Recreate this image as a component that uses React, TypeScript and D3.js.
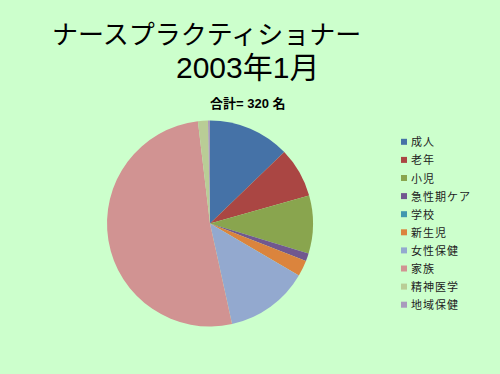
import React from "react";
import * as d3 from "d3";

const categories = ["成人", "老年", "小児", "急性期ケア", "学校", "新生児", "女性保健", "家族", "精神医学", "地域保健"];
const values = [41, 25, 29, 4, 0, 8, 42, 165, 5, 1];
const colors = ["#4572A7", "#AA4643", "#89A54E", "#71588F", "#4198AF", "#DB843D", "#93A9CF", "#D19392", "#B9CD96", "#A99BBD"];
const titleLine1 = "ナースプラクティショナー";
const titleLine2 = "2003年1月";
const subtitle = "合計= 320 名";

export default function App() {
  const W = 500, H = 374;
  const cx = 210, cy = 223.5, r = 103;
  const data = categories.map((c, i) => ({ c, v: values[i], color: colors[i] }));
  const pie = d3.pie<any>().value((d: any) => d.v).sort(null);
  const arc = d3.arc<any>().innerRadius(0).outerRadius(r);
  const arcs = pie(data);
  const font = "'Liberation Sans', 'Noto Sans CJK JP', sans-serif";
  return (
    <svg width={W} height={H} style={{ position: "absolute", left: 0, top: 0 }}>
      <rect x={0} y={0} width={W} height={H} fill="#CCFFCC" />
      <text x={52} y={44} fontSize={26} fontFamily={font} fill="#000">{titleLine1}</text>
      <text x={176} y={77.5} fontSize={30} fontFamily={font} fill="#000">{titleLine2}</text>
      <text x={210} y={108} fontSize={13} fontWeight="bold" fontFamily={font} fill="#000">{subtitle}</text>
      <g transform={`translate(${cx},${cy})`}>
        {arcs.map((a, i) => (
          <path key={i} d={arc(a) || ""} fill={a.data.color} />
        ))}
      </g>
      <g>
        {data.map((d, i) => (
          <g key={i} transform={`translate(401,${142.3 + i * 18.1})`}>
            <rect x={0} y={-3.5} width={6} height={6} fill={d.color} />
            <text x={10} y={4} fontSize={11} fontFamily={font} fill="#222" letterSpacing={1}>{d.c}</text>
          </g>
        ))}
      </g>
    </svg>
  );
}
